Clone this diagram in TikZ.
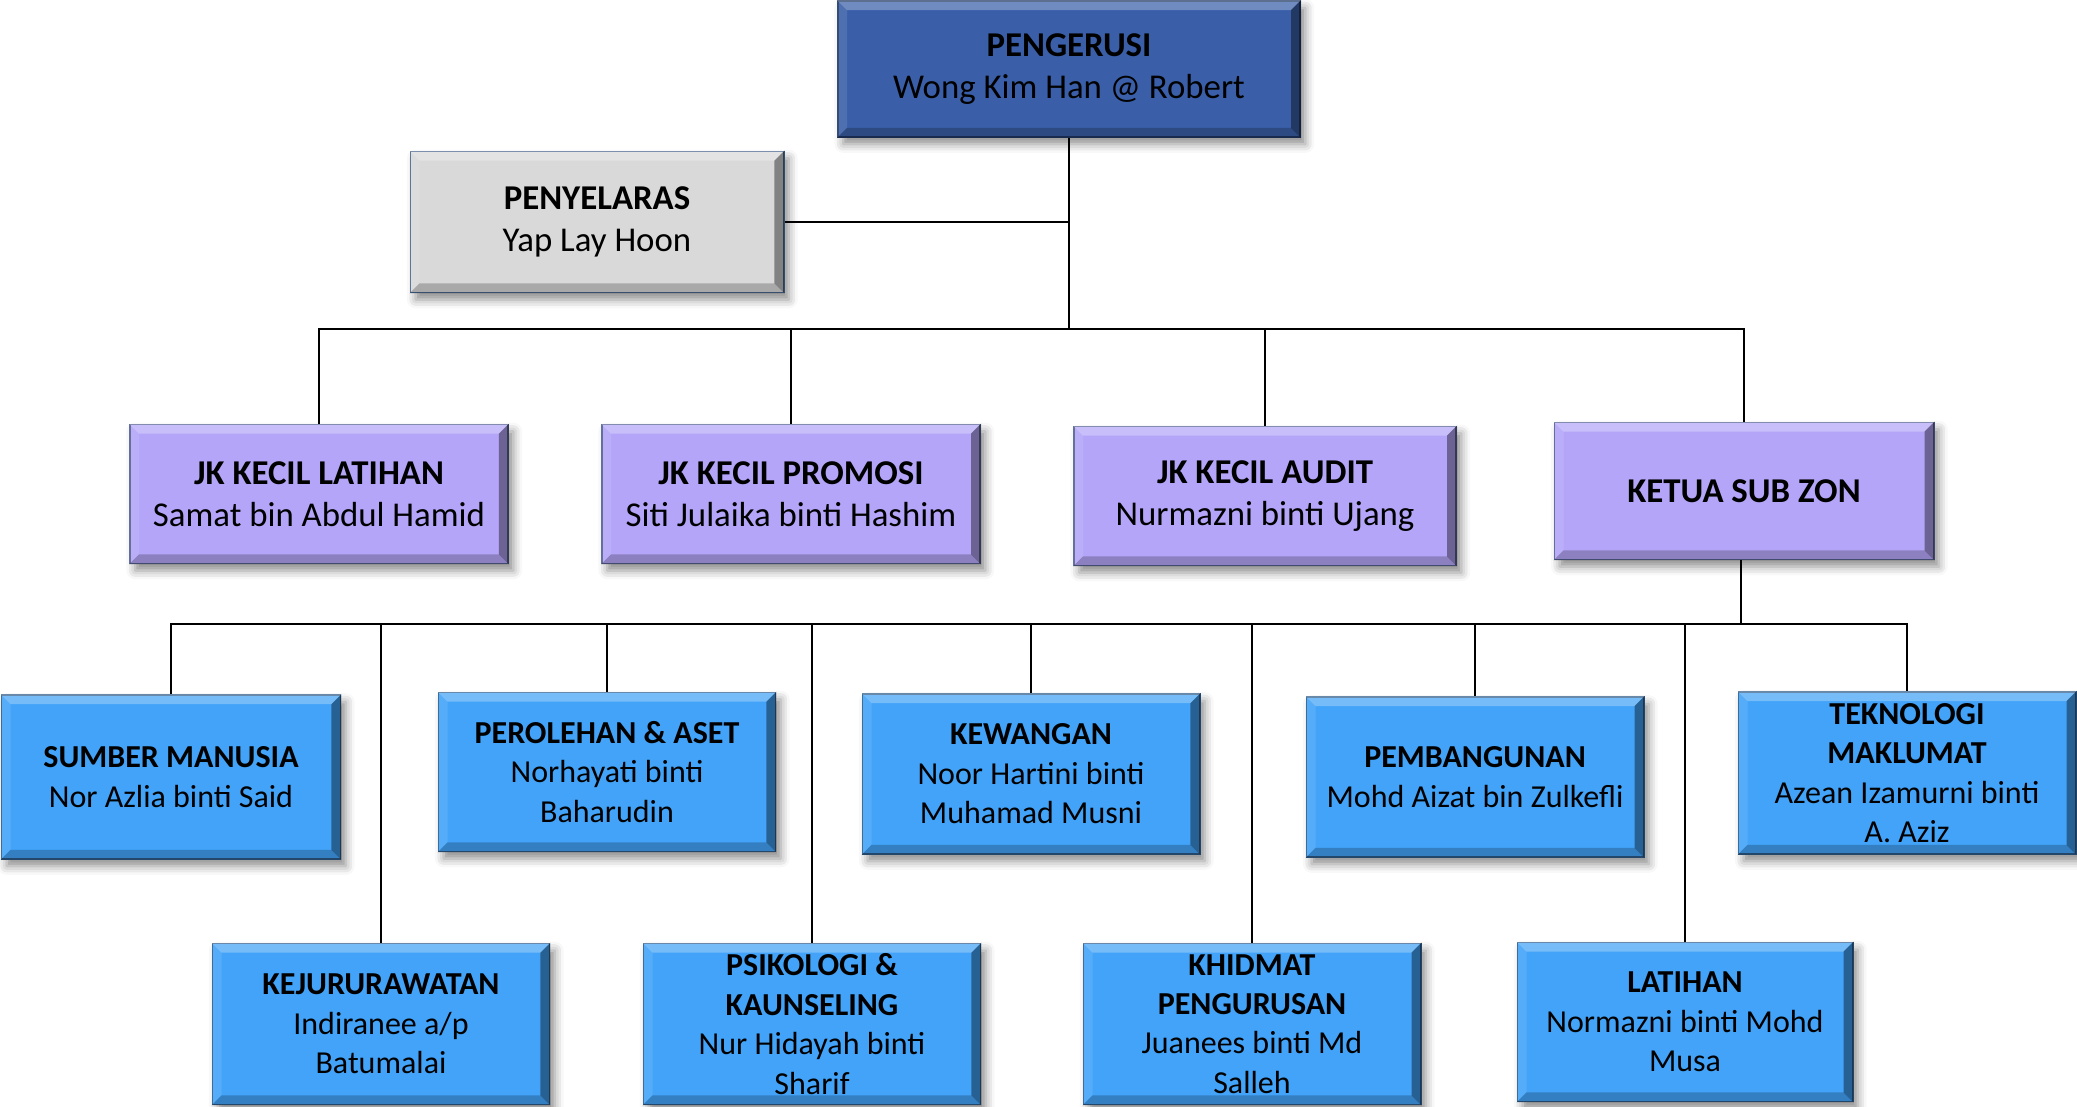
\documentclass[tikz,border=0pt]{standalone}
\usepackage{fontspec}
\setmainfont{Carlito}
\usetikzlibrary{shadows.blur}

\definecolor{chairblue}{HTML}{3A5FA8}
\definecolor{chairline}{HTML}{1F3864}
\definecolor{coordgray}{HTML}{D9D9D9}
\definecolor{coordline}{HTML}{4A6690}
\definecolor{subpurple}{HTML}{B4A5F8}
\definecolor{subline}{HTML}{54608F}
\definecolor{unitblue}{HTML}{42A3F8}
\definecolor{unitline}{HTML}{2E5C8A}

\begin{document}
\begin{tikzpicture}[x=0.01cm, y=-0.01cm, line width=0.6pt,
  orgbox/.style={inner sep=0pt, align=center, line width=0.5pt,
    blur shadow={shadow xshift=1.5pt, shadow yshift=-2pt, shadow blur radius=2.5pt, shadow opacity=45}},
  chairbox/.style={orgbox, fill=chairblue, draw=chairline, minimum width=4.62cm, minimum height=1.36cm,
    font=\fontsize{9.9}{12.1}\selectfont},
  coordbox/.style={orgbox, fill=coordgray, draw=coordline, minimum width=3.73cm, minimum height=1.41cm,
    font=\fontsize{9.9}{12.1}\selectfont},
  subbox/.style={orgbox, fill=subpurple, draw=subline, minimum width=3.78cm, minimum height=1.39cm,
    font=\fontsize{9.9}{12.1}\selectfont},
  unitbox/.style={orgbox, fill=unitblue, draw=unitline, minimum width=3.37cm, minimum height=1.6cm,
    font=\fontsize{9.1}{11.2}\selectfont}]

\useasboundingbox (0,0) rectangle (2077,1107);

% Chairman and coordinator
\node[chairbox] (pengerusi) at (1069,69) {\textbf{PENGERUSI}\\Wong Kim Han @ Robert};
\node[coordbox] (penyelaras) at (597,222) {\textbf{PENYELARAS}\\Yap Lay Hoon};

% Sub-committees
\node[subbox] (jklatihan) at (319,494) {\textbf{JK KECIL LATIHAN}\\Samat bin Abdul Hamid};
\node[subbox] (jkpromosi) at (791,494) {\textbf{JK KECIL PROMOSI}\\Siti Julaika binti Hashim};
\node[subbox, minimum width=3.82cm] (jkaudit) at (1265,496) {\textbf{JK KECIL AUDIT}\\Nurmazni binti Ujang};
\node[subbox, minimum width=3.79cm, minimum height=1.37cm] (ketua) at (1744,491) {\textbf{KETUA SUB ZON}};

% Units, upper row
\node[unitbox, minimum width=3.39cm, minimum height=1.64cm] (sumber) at (171,777) {\textbf{SUMBER MANUSIA}\\Nor Azlia binti Said};
\node[unitbox, minimum height=1.59cm] (perolehan) at (607,772) {\textbf{PEROLEHAN \& ASET}\\Norhayati binti\\Baharudin};
\node[unitbox] (kewangan) at (1031,774) {\textbf{KEWANGAN}\\Noor Hartini binti\\Muhamad Musni};
\node[unitbox] (pembangunan) at (1475,777) {\textbf{PEMBANGUNAN}\\Mohd Aizat bin Zulkefli};
\node[unitbox, minimum height=1.62cm] (teknologi) at (1907,773) {\textbf{TEKNOLOGI}\\\textbf{MAKLUMAT}\\Azean Izamurni binti\\A. Aziz};

% Units, lower row
\node[unitbox, minimum height=1.61cm] (kejururawatan) at (381,1024) {\textbf{KEJURURAWATAN}\\Indiranee a/p\\Batumalai};
\node[unitbox, minimum height=1.61cm] (psikologi) at (812,1024) {\textbf{PSIKOLOGI \&}\\\textbf{KAUNSELING}\\Nur Hidayah binti\\Sharif};
\node[unitbox, minimum height=1.61cm] (khidmat) at (1252,1024) {\textbf{KHIDMAT}\\\textbf{PENGURUSAN}\\Juanees binti Md\\Salleh};
\node[unitbox, minimum width=3.35cm, minimum height=1.59cm] (latihan) at (1685,1022) {\textbf{LATIHAN}\\Normazni binti Mohd\\Musa};

% Bevel on every box
\foreach \n in {pengerusi, penyelaras, jklatihan, jkpromosi, jkaudit, ketua, sumber, perolehan,
                kewangan, pembangunan, teknologi, kejururawatan, psikologi, khidmat, latihan} {
  \fill[white, opacity=.28] (\n.north west) -- (\n.north east)
    -- ([xshift=-1mm, yshift=-1mm]\n.north east) -- ([xshift=1mm, yshift=-1mm]\n.north west) -- cycle;
  \fill[white, opacity=.1] (\n.north west) -- ([xshift=1mm, yshift=-1mm]\n.north west)
    -- ([xshift=1mm, yshift=1mm]\n.south west) -- (\n.south west) -- cycle;
  \fill[black, opacity=.22] (\n.south west) -- ([xshift=1mm, yshift=1mm]\n.south west)
    -- ([xshift=-1mm, yshift=1mm]\n.south east) -- (\n.south east) -- cycle;
  \fill[black, opacity=.4] (\n.north east) -- (\n.south east)
    -- ([xshift=-1mm, yshift=1mm]\n.south east) -- ([xshift=-1mm, yshift=-1mm]\n.north east) -- cycle;
}

% Upper bus
\coordinate (busA) at (1069,329);
\draw (pengerusi.south) -- (busA);
\draw (penyelaras.east) -- (penyelaras.east -| busA);
\draw (jklatihan.north) |- (busA) -| (ketua.north);
\foreach \n in {jkpromosi, jkaudit}
  \draw (\n.north) -- (\n.north |- busA);

% Lower bus
\coordinate (busB) at (1741,624);
\draw (ketua.south -| busB) -- (busB);
\draw (sumber.north) |- (busB) -| (teknologi.north);
\foreach \n in {perolehan, kewangan, pembangunan, kejururawatan, psikologi, khidmat, latihan}
  \draw (\n.north) -- (\n.north |- busB);

\end{tikzpicture}
\end{document}
